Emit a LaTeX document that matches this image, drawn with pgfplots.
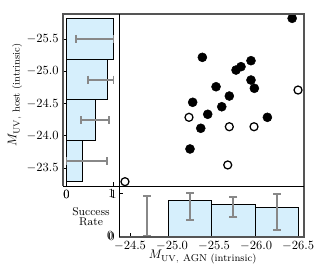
\documentclass[border=0pt]{standalone}
\usepackage{pgfplots}
\pgfplotsset{compat=1.18}
\definecolor{barblue}{RGB}{214,239,252}
\definecolor{errgray}{RGB}{136,136,136}
\definecolor{spinegray}{RGB}{85,85,85}
\pgfplotsset{panel/.style={scale only axis, anchor=south west, clip=false,
  axis line style={draw=none}, tick align=inside, major tick length=3pt,
  tick style={black, line width=0.6pt}, ticklabel style={font=\normalsize}},
  onedec/.style={/pgf/number format/fixed, /pgf/number format/fixed zerofill, /pgf/number format/precision=1},
  negx/.style={x coord trafo/.code={\pgfmathparse{-(##1)}}, x coord inv trafo/.code={\pgfmathparse{-(##1)}}},
  negy/.style={y coord trafo/.code={\pgfmathparse{-(##1)}}, y coord inv trafo/.code={\pgfmathparse{-(##1)}}},
  herr/.style={errgray, line width=1.5pt, mark=|, mark size=3.2pt, mark options={solid, errgray, line width=1.5pt}, forget plot},
  verr/.style={errgray, line width=1.5pt, mark=-, mark size=3.2pt, mark options={solid, errgray, line width=1.5pt}, forget plot}}
\begin{document}
\begin{tikzpicture}
\path[use as bounding box] (0,0) rectangle (256pt,224pt);
% main scatter (x and y shown reversed: brighter to the right and top)
\begin{axis}[panel, negx, negy, at={(95.2pt,75.2pt)}, width=148pt, height=137.6pt,
  xmin=-24.369, xmax=-26.571, ymin=-23.221, ymax=-25.888,
  xtick=\empty, ytick=\empty]
\addplot[only marks, mark=*, mark size=3.6pt, mark options={fill=black, draw=black}] coordinates {
(-26.43,-25.821) (-25.361,-25.216) (-25.94,-25.164) (-25.821,-25.071) (-25.762,-25.019)
(-25.94,-24.864) (-25.98,-24.736) (-25.524,-24.760) (-25.682,-24.616) (-25.246,-24.519)
(-25.592,-24.450) (-25.425,-24.333) (-26.135,-24.286) (-25.342,-24.116) (-25.214,-23.795)};
\addplot[only marks, mark=o, mark size=3.2pt, mark options={draw=black, fill=white, line width=1pt}] coordinates {
(-26.50,-24.709) (-25.202,-24.286) (-25.682,-24.140) (-25.976,-24.140) (-25.663,-23.547) (-24.44,-23.288)};
\end{axis}
% left panel
\begin{axis}[panel, negy, at={(50.4pt,75.2pt)}, width=44.8pt, height=137.6pt,
  xmin=-0.074, xmax=1.117, ymin=-23.221, ymax=-25.888,
  ytick={-25.5,-25,-24.5,-24,-23.5}, yticklabel style={onedec},
  xtick={0,1}, xticklabels={{0},{1}},
  xtick pos=bottom, ytick pos=left]
\addplot[xbar interval, fill=barblue, draw=black, line width=0.8pt] coordinates {
(0.333,-23.288) (0.625,-23.921) (0.875,-24.555) (1.0,-25.188) (1.0,-25.821)};
\addplot[herr] coordinates {(0.2,-25.504) (1.0,-25.504)};
\addplot[herr] coordinates {(0.457,-24.871) (1.0,-24.871)};
\addplot[herr] coordinates {(0.31,-24.238) (0.90,-24.238)};
\addplot[herr] coordinates {(0.0,-23.604) (0.86,-23.604)};
\end{axis}
% bottom panel
\begin{axis}[panel, negx, at={(95.2pt,34.4pt)}, width=148pt, height=40.8pt,
  xmin=-24.369, xmax=-26.571, ymin=-0.023, ymax=1.163,
  xtick={-24.5,-25,-25.5,-26,-26.5}, xticklabel style={onedec},
  ytick={0,1}, yticklabels={{0},{1}},
  xtick pos=bottom, ytick pos=left]
\addplot[ybar interval, fill=barblue, draw=black, line width=0.8pt] coordinates {
(-24.44,0) (-24.956,0.833) (-25.472,0.727) (-25.988,0.667) (-26.504,0.667)};
\addplot[verr] coordinates {(-24.698,0) (-24.698,0.93)};
\addplot[verr] coordinates {(-25.214,0.372) (-25.214,0.993)};
\addplot[verr] coordinates {(-25.730,0.435) (-25.730,0.914)};
\addplot[verr] coordinates {(-26.246,0.14) (-26.246,0.977)};
\end{axis}
% frames
\draw[spinegray, line width=1.2pt, line join=miter] (50.4pt,75.2pt) -- (50.4pt,212.8pt) -- (243.2pt,212.8pt) -- (243.2pt,34.4pt) -- (95.2pt,34.4pt);
\draw[black, line width=0.6pt] (95.2pt,212.8pt) -- (95.2pt,34.4pt);
\draw[black, line width=0.6pt] (50.4pt,75.2pt) -- (243.2pt,75.2pt);
% zero tick labels of the two rate axes
\node[font=\normalsize] at (53.2pt,68.6pt) {0};
\node[font=\normalsize] at (88.2pt,35.6pt) {0};
% labels
\node[rotate=90] at (12pt,148pt) {$M_{\mathrm{UV},\ \mbox{\footnotesize host (intrinsic)}}$};
\node at (162.4pt,18.4pt) {$M_{\mathrm{UV},\ \mbox{\footnotesize AGN (intrinsic)}}$};
\node[font=\small, align=center] at (72.8pt,50.8pt) {Success\\[-2.5pt]Rate};
\end{tikzpicture}
\end{document}
